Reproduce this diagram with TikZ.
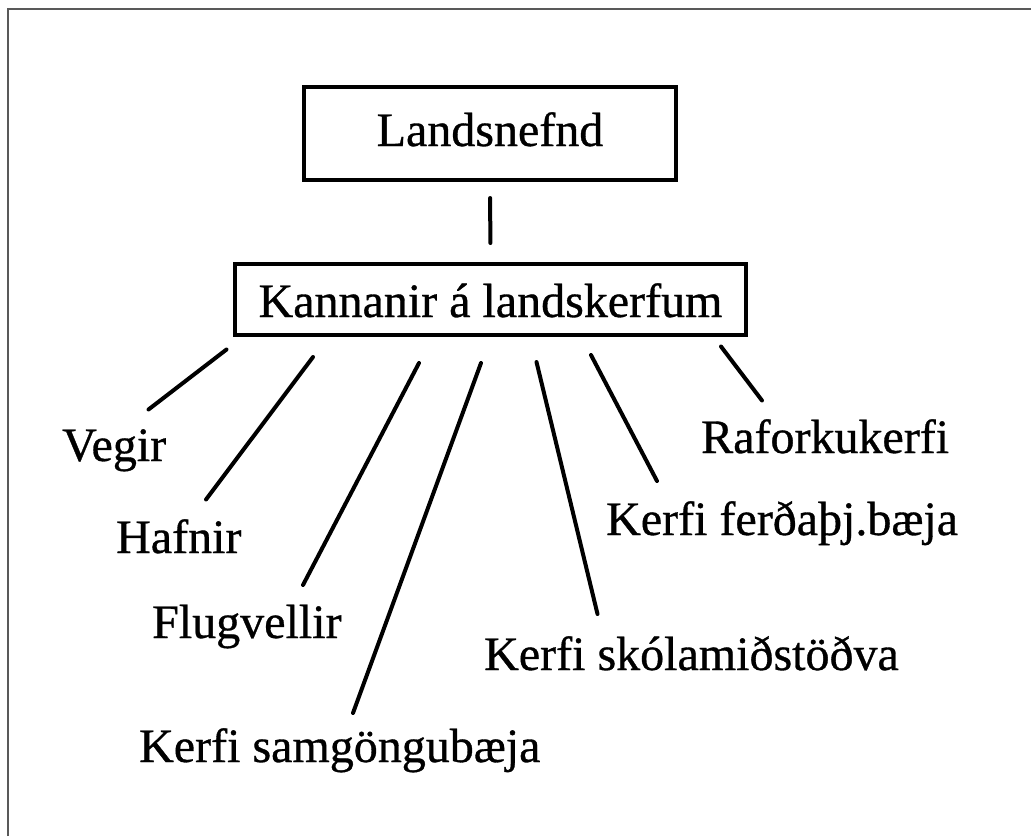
\documentclass[tikz,border=0pt]{standalone}
\usepackage{fontspec}
\setmainfont{Liberation Serif}[UprightFeatures={FakeBold=0.7}]
\begin{document}
\begin{tikzpicture}[x=1pt,y=-1pt,
  bigfont/.style={font=\fontsize{48}{58}\selectfont},
  box/.style={draw, line width=4pt, inner sep=0pt, bigfont},
  leaf/.style={anchor=base west, inner sep=0pt, bigfont},
  link/.style={line width=4pt, line cap=round},
  frame/.style={draw=black!65, line width=1.5pt}]
\useasboundingbox (0,0) rectangle (1031,836);
% partial frame along the left and top edges
\draw[frame] (8,836) -- (8,9) -- (1031,9);

% the two boxes
\node[box, minimum width=372pt, minimum height=93pt,
      text height=33pt, text depth=8pt] (top) at (490,133.5) {Landsnefnd};
\node[box, minimum width=511pt, minimum height=71pt,
      text height=43pt, text depth=8pt] (mid) at (490.5,299.5) {Kannanir á landskerfum};
\draw[link, shorten <=16pt, shorten >=19pt] (top.south) -- (mid.north);

% leaf labels
\node[leaf] (vegir)  at (62,461)  {Vegir};
\node[leaf] (hafnir) at (116,553) {Hafnir};
\node[leaf] (flug)   at (152,638) {Flugvellir};
\node[leaf] (samg)   at (139,762) {Kerfi samgöngubæja};
\node[leaf] (skola)  at (484,670) {Kerfi skólamiðstöðva};
\node[leaf] (ferd)   at (606,535) {Kerfi ferðaþj.bæja};
\node[leaf] (rafork) at (701,453) {Raforkukerfi};

% ends of the fan of lines below the second box
\coordinate (vegir-a)  at (226.5,349.5); \coordinate (vegir-b)  at (148.5,409.5);
\coordinate (hafnir-a) at (313,357);     \coordinate (hafnir-b) at (206,499.5);
\coordinate (flug-a)   at (419,363);     \coordinate (flug-b)   at (303,585);
\coordinate (samg-a)   at (481,363);     \coordinate (samg-b)   at (353,713);
\coordinate (skola-a)  at (536.5,362);   \coordinate (skola-b)  at (597.5,614);
\coordinate (ferd-a)   at (591,355);     \coordinate (ferd-b)   at (657,481);
\coordinate (rafork-a) at (721,346.5);   \coordinate (rafork-b) at (762,400.5);

\foreach \n in {vegir,hafnir,flug,samg,skola,ferd,rafork}
  \draw[link] (\n-a) -- (\n-b);
\end{tikzpicture}
\end{document}
